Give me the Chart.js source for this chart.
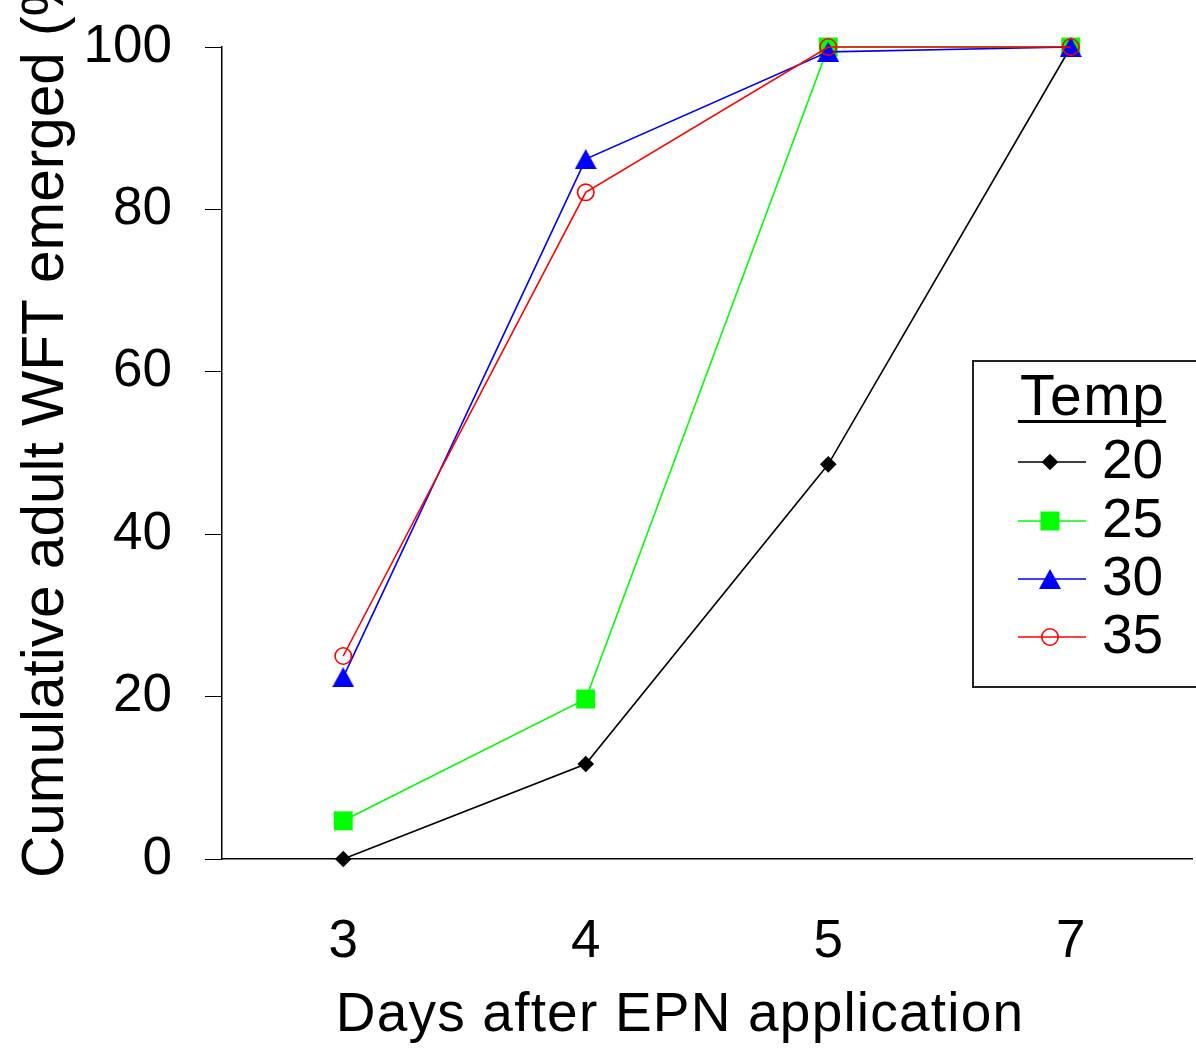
<!DOCTYPE html>
<html><head><meta charset="utf-8">
<script src="https://cdn.jsdelivr.net/npm/chart.js@4.4.0/dist/chart.umd.min.js"></script>
<style>html,body{margin:0;padding:0;background:#fff;} #wrap{width:1196px;height:1048px;}</style>
</head><body><div id="wrap"><canvas id="c" width="1196" height="1048"></canvas></div>
<script>
// ---- data ----
const days = ['3', '4', '5', '7'];
const temps = ['20', '25', '30', '35'];
const temp20 = [0, 11.7, 48.6, 100];
const temp25 = [4.7, 19.7, 100, 100];
const temp30 = [22.4, 86.2, 99.4, 100];
const temp35 = [25, 82.1, 100, 100];
const yTicks = [0, 20, 40, 60, 80, 100];
const xTitle = 'Days after EPN application';
const yTitle = 'Cumulative adult WFT emerged (%)';
const legendTitle = 'Temp';

const FONT = '"Liberation Sans", Arial, Helvetica, sans-serif';
Chart.defaults.font.family = FONT;
Chart.defaults.color = '#000';

function triCanvas(color) {
  const c = document.createElement('canvas');
  c.width = 22; c.height = 20;
  const g = c.getContext('2d');
  g.fillStyle = color;
  g.beginPath(); g.moveTo(11, 0); g.lineTo(22, 20); g.lineTo(0, 20); g.closePath(); g.fill();
  return c;
}

const series = [
  {label: temps[0], data: temp20, color: '#000000', style: 'rectRot', r: 8.3, bw: 0, fill: '#000000', order: 4},
  {label: temps[1], data: temp25, color: '#00ff00', style: 'rect', r: 13.4, bw: 0, fill: '#00ff00', order: 3},
  {label: temps[2], data: temp30, color: '#0000ff', style: triCanvas('#0000ff'), r: 11, bw: 0, fill: '#0000ff', order: 2},
  {label: temps[3], data: temp35, color: '#ff0000', style: 'circle', r: 8.2, bw: 1.6, fill: 'rgba(0,0,0,0)', order: 1}
];

const datasets = series.map(s => ({
  label: s.label, data: s.data, order: s.order,
  borderColor: s.color, borderWidth: 1.6, backgroundColor: s.fill,
  pointStyle: s.style, pointRadius: s.r, pointBorderWidth: s.bw,
  pointBorderColor: s.color, pointBackgroundColor: s.fill,
  tension: 0, clip: false, fill: false
}));

function setSpacing(ctx, v) { if ('letterSpacing' in ctx) ctx.letterSpacing = v; }

const extras = {
  id: 'extras',
  afterDraw(chart) {
    const ctx = chart.ctx;
    const ca = chart.chartArea;
    // y axis title (rotated)
    ctx.save();
    ctx.fillStyle = '#000';
    ctx.font = '58.5px ' + FONT;
    ctx.translate(ca.left - 159, ca.bottom + 19);
    ctx.rotate(-Math.PI / 2);
    ctx.textAlign = 'left';
    ctx.textBaseline = 'alphabetic';
    ctx.fillText(yTitle, 0, 0);
    ctx.restore();

    // x axis title
    ctx.save();
    ctx.fillStyle = '#000';
    ctx.font = '55px ' + FONT;
    setSpacing(ctx, '1.2px');
    ctx.textAlign = 'center';
    ctx.textBaseline = 'alphabetic';
    ctx.fillText(xTitle, 680, 1031);
    ctx.restore();

    // legend box
    ctx.save();
    ctx.strokeStyle = '#222';
    ctx.lineWidth = 2;
    ctx.strokeRect(973, 361, 240, 326);
    ctx.fillStyle = '#000';
    ctx.font = '57px ' + FONT;
    setSpacing(ctx, '1.5px');
    ctx.textAlign = 'left';
    ctx.textBaseline = 'alphabetic';
    ctx.fillText(legendTitle, 1020, 415);
    ctx.fillRect(1018, 420, 148, 3);
    setSpacing(ctx, '0px');
    const ys = [462, 521, 579, 637];
    ctx.font = '55px ' + FONT;
    ctx.textBaseline = 'middle';
    series.forEach((s, i) => {
      const y = ys[i];
      ctx.strokeStyle = s.color;
      ctx.lineWidth = 1.6;
      ctx.beginPath(); ctx.moveTo(1018, y); ctx.lineTo(1086, y); ctx.stroke();
      ctx.fillStyle = s.fill;
      ctx.strokeStyle = s.color;
      ctx.lineWidth = s.bw;
      Chart.helpers.drawPoint(ctx, {pointStyle: s.style, radius: s.r, borderWidth: s.bw, rotation: 0}, 1050, y);
      ctx.fillStyle = '#000';
      ctx.fillText(s.label, 1102, y + 1);
    });
    ctx.restore();
  }
};

new Chart(document.getElementById('c'), {
  type: 'line',
  data: {labels: days, datasets: datasets},
  options: {
    responsive: false, animation: false, devicePixelRatio: 1,
    layout: {autoPadding: false, padding: {top: 47, right: 4, left: 0, bottom: 0}},
    plugins: {legend: {display: false}, tooltip: {enabled: false}},
    scales: {
      x: {
        type: 'category', offset: true,
        grid: {display: false, drawTicks: false},
        border: {display: true, color: '#000', width: 1.5},
        ticks: {color: '#000', font: {size: 53}, padding: 52, maxRotation: 0, autoSkip: false},
        title: {display: false},
        afterFit: s => { s.height = 189; s.paddingLeft = 0; s.paddingRight = 0; }
      },
      y: {
        min: 0, max: 100,
        afterBuildTicks: s => { s.ticks = yTicks.map(v => ({value: v})); },
        grid: {drawOnChartArea: false, drawTicks: true, tickLength: 17, color: '#000', lineWidth: 1},
        border: {display: true, color: '#000', width: 1.5},
        ticks: {color: '#000', font: {size: 53}, padding: 33},
        afterFit: s => { s.width = 222; s.paddingTop = 0; s.paddingBottom = 0; }
      }
    }
  },
  plugins: [extras]
});
</script>
</body></html>
